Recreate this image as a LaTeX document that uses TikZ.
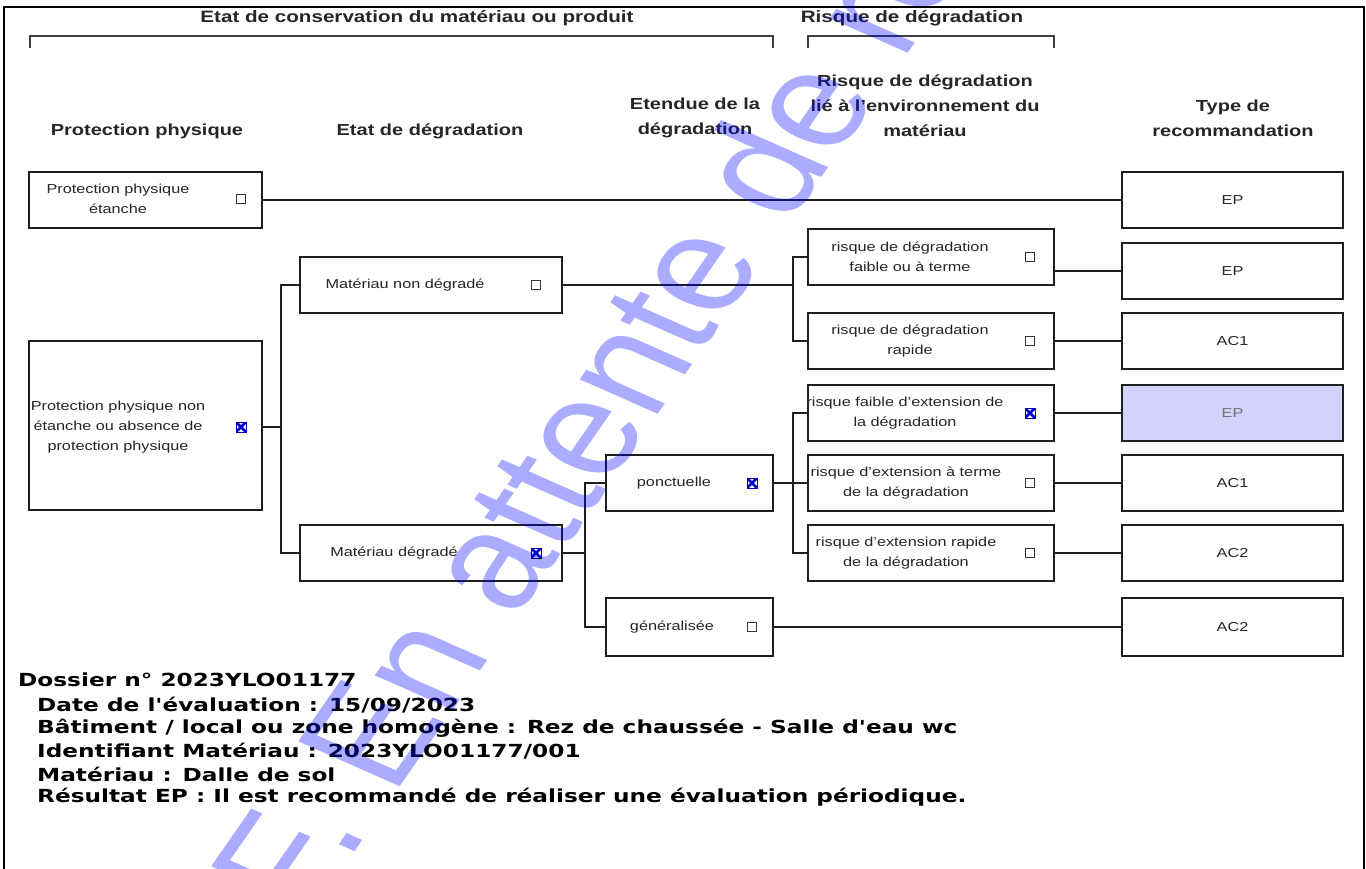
\documentclass[tikz,border=0pt]{standalone}
\usepackage{fontspec}
\setmainfont{Liberation Sans}[FakeStretch=1.25]
\newfontfamily\infofont{DejaVu Sans}[FakeStretch=1.29]
\newfontfamily\markfont{Liberation Sans}
\begin{document}
\begin{tikzpicture}[x=1pt,y=-1pt,
  frame/.style={line width=1.6pt,draw=black},
  boxnode/.style={draw=black!88,line width=1.8pt,inner sep=0pt},
  wire/.style={line width=1.5pt,draw=black!88},
  brace/.style={line width=1.8pt,draw=black!75},
  lbl/.style={align=center,inner sep=0pt,font=\fontsize{13}{20}\selectfont,text=black!85},
  rec/.style={inner sep=0pt,font=\fontsize{13}{16}\selectfont,text=black!85},
  colhead/.style={align=center,inner sep=0pt,font=\fontsize{16}{25}\selectfont\bfseries,text=black!85},
  tophead/.style={inner sep=0pt,font=\fontsize{16.5}{18}\selectfont\bfseries,text=black!85},
  cbox/.style={draw=black!80,line width=1.1pt,minimum size=8.5pt,inner sep=0pt},
  cboxon/.style={draw=blue!70!black,line width=0.8pt,minimum size=10pt,inner sep=0pt,
    path picture={\draw[blue!80!black,line width=2.6pt]
      (path picture bounding box.south west) -- (path picture bounding box.north east)
      (path picture bounding box.north west) -- (path picture bounding box.south east);}},
  info/.style={anchor=west,inner sep=0pt,font=\infofont\bfseries\fontsize{18}{20}\selectfont},
]
\useasboundingbox (0,0) rectangle (1366,869);
\fill[white] (0,0) rectangle (1366,869);

% page frame
\draw[frame] (4,869) -- (4,7) -- (1364,7) -- (1364,869);

% group headings with their brackets
\node[tophead] (hcons) at (417,18) {Etat de conservation du matériau ou produit};
\draw[brace] (30,48) -- (30,36) -- (773,36) -- (773,48);
\node[tophead] (hrisk) at (912,18) {Risque de dégradation};
\draw[brace] (808,48) -- (808,36) -- (1054,36) -- (1054,48);

% column headings
\node[colhead] (c1) at (147,131) {Protection physique};
\node[colhead] (c2) at (430,131) {Etat de dégradation};
\node[colhead] (c3) at (695,118) {Etendue de la\\dégradation};
\node[colhead] (c4) at (925,106) {Risque de dégradation\\lié à l'environnement du\\matériau};
\node[colhead] (c5) at (1233,118) {Type de\\recommandation};

% physical protection
\node[boxnode,minimum width=233pt,minimum height=56pt] (pe) at (145.5,200) {};
\node[lbl] (pet) at (118,199) {Protection physique\\étanche};
\node[cbox] (pec) at (241,199) {};
\node[boxnode,minimum width=233pt,minimum height=169pt] (pn) at (145.5,425.5) {};
\node[lbl] (pnt) at (118,427) {Protection physique non\\étanche ou absence de\\protection physique};
\node[cboxon] (pnc) at (241,427) {};

% state of degradation
\node[boxnode,minimum width=262pt,minimum height=56pt] (mnd) at (431,285) {};
\node[lbl] (mndt) at (405,285) {Matériau non dégradé};
\node[cbox] (mndc) at (536,285) {};
\node[boxnode,minimum width=262pt,minimum height=56pt] (md) at (431,553) {};
\node[lbl] (mdt) at (394,553) {Matériau dégradé};
\node[cboxon] (mdc) at (536,553) {};

% extent of degradation
\node[boxnode,minimum width=167pt,minimum height=56pt] (po) at (689.5,483) {};
\node[lbl] (pot) at (674,483) {ponctuelle};
\node[cboxon] (poc) at (752,483) {};
\node[boxnode,minimum width=167pt,minimum height=58pt] (ge) at (689.5,627) {};
\node[lbl] (get) at (672,627) {généralisée};
\node[cbox] (gec) at (752,627) {};

% environment risk
\node[boxnode,minimum width=246pt,minimum height=56pt] (r1) at (931,257) {};
\node[lbl] (r1t) at (910,257) {risque de dégradation\\faible ou à terme};
\node[cbox] (r1c) at (1030,257) {};
\node[boxnode,minimum width=246pt,minimum height=56pt] (r2) at (931,341) {};
\node[lbl] (r2t) at (910,341) {risque de dégradation\\rapide};
\node[cbox] (r2c) at (1030,341) {};
\node[boxnode,minimum width=246pt,minimum height=56pt] (r3) at (931,413) {};
\node[lbl] (r3t) at (905,413) {risque faible d'extension de\\la dégradation};
\node[cboxon] (r3c) at (1030,413) {};
\node[boxnode,minimum width=246pt,minimum height=56pt] (r4) at (931,483) {};
\node[lbl] (r4t) at (906,483) {risque d'extension à terme\\de la dégradation};
\node[cbox] (r4c) at (1030,483) {};
\node[boxnode,minimum width=246pt,minimum height=56pt] (r5) at (931,553) {};
\node[lbl] (r5t) at (906,553) {risque d'extension rapide\\de la dégradation};
\node[cbox] (r5c) at (1030,553) {};

% recommendation type
\node[boxnode,rec,minimum width=221pt,minimum height=56pt] (t1) at (1232.5,200) {EP};
\node[boxnode,rec,minimum width=221pt,minimum height=56pt] (t2) at (1232.5,271) {EP};
\node[boxnode,rec,minimum width=221pt,minimum height=56pt] (t3) at (1232.5,341) {AC1};
\node[boxnode,rec,minimum width=221pt,minimum height=56pt,fill={rgb,255:red,210;green,210;blue,250},text=black!55] (t4) at (1232.5,413) {EP};
\node[boxnode,rec,minimum width=221pt,minimum height=56pt] (t5) at (1232.5,483) {AC1};
\node[boxnode,rec,minimum width=221pt,minimum height=56pt] (t6) at (1232.5,553) {AC2};
\node[boxnode,rec,minimum width=221pt,minimum height=58pt] (t7) at (1232.5,627) {AC2};

% junction columns
\coordinate (busA) at (281,0);
\coordinate (busB) at (585,0);
\coordinate (busC) at (793,0);

% connectors
\draw[wire] (pe.east) -- (t1.west);
\draw[wire] (pn.east |- pnc) -- (pnc -| busA);
\draw[wire] (mnd.west) -| (busA |- md.west) -- (md.west);
\draw[wire] (mnd.east) -- (mnd.east -| busC);
\draw[wire] (r1.west) -| (busC |- r2.west) -- (r2.west);
\draw[wire] (r1.east |- t2.west) -- (t2.west);
\draw[wire] (r2.east) -- (t3.west);
\draw[wire] (md.east) -- (md.east -| busB);
\draw[wire] (po.west) -| (busB |- ge.west) -- (ge.west);
\draw[wire] (po.east) -- (po.east -| busC);
\draw[wire] (r3.west) -| (busC |- r5.west) -- (r5.west);
\draw[wire] (r4.west) -- (r4.west -| busC);
\draw[wire] (r3.east) -- (t4.west);
\draw[wire] (r4.east) -- (t5.west);
\draw[wire] (r5.east) -- (t6.west);
\draw[wire] (ge.east) -- (t7.west);

% file summary
\node[info] (i1) at (18,680) {Dossier n° 2023YLO01177};
\node[info] (i2) at (37,705) {Date de l'évaluation : 15/09/2023};
\node[info] (i3) at (37,728) {Bâtiment / local ou zone homogène : Rez de chaussée - Salle d'eau wc};
\node[info] (i4) at (37,751) {Identifiant Matériau : 2023YLO01177/001};
\node[info] (i5) at (37,774) {Matériau : Dalle de sol};
\node[info] (i6) at (37,797) {Résultat EP : Il est recommandé de réaliser une évaluation périodique.};

% status watermark, stretched with the rest of the sheet
\begin{scope}
\clip (0,0) rectangle (1366,869);
\begin{scope}[xscale=1.25]
\node[rotate=61,transform shape,anchor=base west,inner sep=0pt,text=blue,text opacity=0.33,
  font=\markfont\fontsize{135}{135}\selectfont] (wm) at (245.3,921.7) {F. En attente de rég};
\end{scope}
\end{scope}
\end{tikzpicture}
\end{document}
